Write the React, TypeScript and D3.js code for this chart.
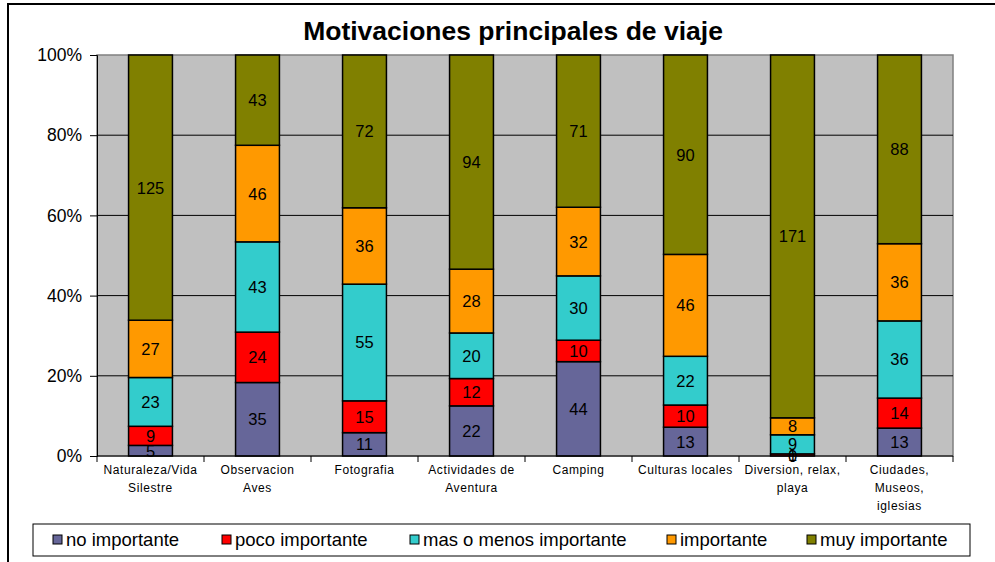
import React, { useEffect, useRef } from 'react';
import * as d3 from 'd3';

const categories = [
  'Naturaleza/Vida|Silestre',
  'Observacion|Aves',
  'Fotografia',
  'Actividades de|Aventura',
  'Camping',
  'Culturas locales',
  'Diversion, relax,|playa',
  'Ciudades,|Museos,|iglesias',
];
const seriesNames = ['no importante', 'poco importante', 'mas o menos importante', 'importante', 'muy importante'];
const seriesColors = ['#666699', '#FF0000', '#33CCCC', '#FF9900', '#808000'];
const noImportante = [5, 35, 11, 22, 44, 13, 0, 13];
const pocoImportante = [9, 24, 15, 12, 10, 10, 1, 14];
const masMenos = [23, 43, 55, 20, 30, 22, 9, 36];
const importante = [27, 46, 36, 28, 32, 46, 8, 36];
const muyImportante = [125, 43, 72, 94, 71, 90, 171, 88];
const yTicks = [0, 0.2, 0.4, 0.6, 0.8, 1];
const legendX = [53, 222, 410, 667, 807];

const App = () => {
  const svgRef = useRef(null);

  useEffect(() => {
    const svg = d3.select(svgRef.current);
    svg.selectAll('*').remove();
    const font = 'Liberation Sans, Arial, sans-serif';

    // outer frame
    svg.append('rect')
      .attr('x', 8).attr('y', 4).attr('width', 1000).attr('height', 600)
      .attr('fill', 'white').attr('stroke', 'black').attr('stroke-width', 2);

    svg.append('text')
      .text('Motivaciones principales de viaje')
      .attr('x', 513).attr('y', 40)
      .attr('text-anchor', 'middle')
      .attr('font-family', font)
      .attr('font-weight', 'bold')
      .attr('font-size', '26.5px');

    const left = 97, right = 953, top = 55, bottom = 456;
    const x = d3.scaleBand().domain(categories).range([left, right]).paddingInner(0.59).paddingOuter(0.295);
    const y = d3.scaleLinear().domain([0, 1]).range([bottom, top]);

    svg.append('rect')
      .attr('x', left).attr('y', top).attr('width', right - left).attr('height', bottom - top)
      .attr('fill', '#C0C0C0').attr('stroke', '#808080').attr('stroke-width', 1.5);

    // gridlines
    svg.append('g').selectAll('line').data(yTicks.slice(1, 5)).join('line')
      .attr('x1', left).attr('x2', right)
      .attr('y1', d => y(d)).attr('y2', d => y(d))
      .attr('stroke', 'black').attr('stroke-width', 1);

    // y axis
    const yAxis = d3.axisLeft(y).tickValues(yTicks).tickFormat(d3.format('.0%')).tickSize(7).tickPadding(8);
    svg.append('g')
      .attr('transform', `translate(${left},0)`)
      .call(yAxis)
      .call(g => g.selectAll('text').attr('font-family', font).attr('font-size', '17.5px').attr('fill', 'black'))
      .call(g => g.selectAll('line, path').attr('stroke', 'black'));

    const rows = categories.map((c, i) => ({
      cat: c,
      vals: [noImportante[i], pocoImportante[i], masMenos[i], importante[i], muyImportante[i]],
    }));

    const gBars = svg.append('g');
    const gLabels = svg.append('g');
    rows.forEach(r => {
      const total = d3.sum(r.vals);
      let acc = 0;
      r.vals.forEach((v, k) => {
        const y0 = acc / total;
        acc += v;
        const y1 = acc / total;
        gBars.append('rect')
          .attr('x', x(r.cat))
          .attr('width', x.bandwidth())
          .attr('y', y(y1))
          .attr('height', y(y0) - y(y1))
          .attr('fill', seriesColors[k])
          .attr('stroke', 'black').attr('stroke-width', 1.5);
        gLabels.append('text')
          .text(v)
          .attr('x', x(r.cat) + x.bandwidth() / 2)
          .attr('y', (y(y0) + y(y1)) / 2)
          .attr('dy', '0.36em')
          .attr('text-anchor', 'middle')
          .attr('font-family', font)
          .attr('font-size', '16.5px');
      });
    });

    // x axis
    svg.append('line').attr('x1', left).attr('x2', right).attr('y1', bottom).attr('y2', bottom).attr('stroke', 'black');
    const bounds = d3.range(categories.length + 1).map(i => left + i * x.step());
    svg.append('g').selectAll('line').data(bounds).join('line')
      .attr('x1', d => d).attr('x2', d => d).attr('y1', bottom).attr('y2', bottom + 6)
      .attr('stroke', 'black');

    const gX = svg.append('g');
    categories.forEach(c => {
      const t = gX.append('text')
        .attr('x', x(c) + x.bandwidth() / 2).attr('y', 474)
        .attr('text-anchor', 'middle')
        .attr('font-family', font).attr('font-size', '12px')
        .attr('letter-spacing', '0.6px');
      c.split('|').forEach((line, j) => {
        t.append('tspan').text(line).attr('x', x(c) + x.bandwidth() / 2).attr('dy', j === 0 ? 0 : 18);
      });
    });

    // legend
    svg.append('rect')
      .attr('x', 33).attr('y', 524).attr('width', 937).attr('height', 32)
      .attr('fill', 'white').attr('stroke', 'black').attr('stroke-width', 1);
    seriesNames.forEach((s, k) => {
      svg.append('rect')
        .attr('x', legendX[k]).attr('y', 535).attr('width', 9).attr('height', 9)
        .attr('fill', seriesColors[k]).attr('stroke', 'black').attr('stroke-width', 1);
      svg.append('text')
        .text(s)
        .attr('x', legendX[k] + 13).attr('y', 546)
        .attr('font-family', font).attr('font-size', '18.5px');
    });
  }, []);

  return (
    <svg ref={svgRef} width={995} height={562} style={{ position: 'absolute', left: 0, top: 0 }} />
  );
};

export default App;
